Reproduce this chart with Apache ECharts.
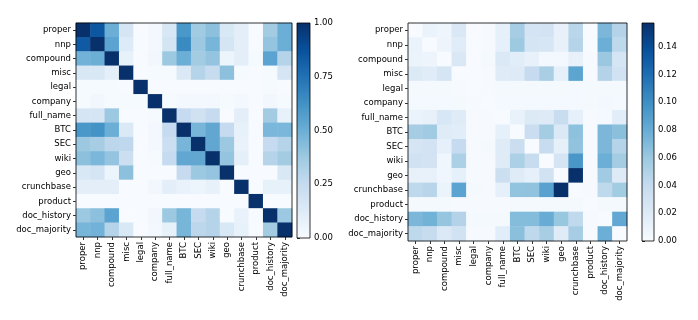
<!DOCTYPE html>
<html>
<head>
<meta charset="utf-8">
<script src="https://cdn.jsdelivr.net/npm/echarts@6/dist/echarts.min.js"></script>
<style>
  html, body { margin: 0; padding: 0; background: #fff; }
  #chart { width: 698px; height: 320px; }
</style>
</head>
<body>
<div id="chart"></div>
<script>
// labels shared by both matrices
const labels = ['proper', 'nnp', 'compound', 'misc', 'legal', 'company', 'full_name', 'BTC', 'SEC', 'wiki', 'geo', 'crunchbase', 'product', 'doc_history', 'doc_majority'];

// left matrix (0..1)
const leftMatrix = [
  [1.00, 0.85, 0.50, 0.17, 0.00, 0.02, 0.16, 0.60, 0.37, 0.42, 0.15, 0.10, 0.00, 0.36, 0.50],
  [0.84, 1.00, 0.55, 0.13, 0.00, 0.02, 0.18, 0.65, 0.38, 0.47, 0.17, 0.10, 0.00, 0.40, 0.50],
  [0.48, 0.50, 1.00, 0.08, 0.00, 0.03, 0.38, 0.50, 0.36, 0.40, 0.05, 0.10, 0.01, 0.55, 0.30],
  [0.15, 0.15, 0.09, 1.00, 0.00, 0.01, 0.01, 0.14, 0.30, 0.24, 0.42, 0.01, 0.00, 0.01, 0.17],
  [0.01, 0.01, 0.01, 0.00, 1.00, 0.00, 0.00, 0.00, 0.00, 0.00, 0.00, 0.00, 0.00, 0.01, 0.00],
  [0.01, 0.03, 0.01, 0.01, 0.01, 1.00, 0.01, 0.02, 0.02, 0.02, 0.01, 0.02, 0.00, 0.03, 0.01],
  [0.17, 0.17, 0.38, 0.00, 0.00, 0.01, 1.00, 0.25, 0.20, 0.25, 0.00, 0.10, 0.00, 0.36, 0.08],
  [0.60, 0.62, 0.50, 0.14, 0.00, 0.02, 0.25, 1.00, 0.47, 0.53, 0.25, 0.08, 0.00, 0.46, 0.46],
  [0.38, 0.35, 0.28, 0.27, 0.00, 0.02, 0.22, 0.47, 1.00, 0.53, 0.38, 0.07, 0.00, 0.25, 0.30],
  [0.42, 0.46, 0.40, 0.22, 0.00, 0.01, 0.25, 0.53, 0.53, 1.00, 0.40, 0.09, 0.00, 0.30, 0.36],
  [0.15, 0.17, 0.05, 0.42, 0.00, 0.00, 0.00, 0.25, 0.38, 0.40, 1.00, 0.00, 0.00, 0.00, 0.15],
  [0.10, 0.10, 0.10, 0.00, 0.00, 0.03, 0.10, 0.07, 0.05, 0.08, 0.00, 1.00, 0.00, 0.08, 0.08],
  [0.00, 0.00, 0.00, 0.00, 0.00, 0.00, 0.00, 0.00, 0.00, 0.00, 0.00, 0.00, 1.00, 0.00, 0.00],
  [0.38, 0.42, 0.55, 0.00, 0.00, 0.03, 0.38, 0.47, 0.25, 0.30, 0.00, 0.07, 0.00, 1.00, 0.38],
  [0.47, 0.48, 0.30, 0.15, 0.00, 0.02, 0.08, 0.47, 0.28, 0.30, 0.15, 0.08, 0.00, 0.36, 1.00]
];

// right matrix (0..~0.157)
const rightMatrix = [
  [0.000, 0.010, 0.007, 0.023, 0.000, 0.001, 0.013, 0.055, 0.028, 0.029, 0.012, 0.045, 0.000, 0.072, 0.048],
  [0.010, 0.000, 0.008, 0.018, 0.000, 0.001, 0.013, 0.059, 0.027, 0.026, 0.012, 0.047, 0.000, 0.078, 0.043],
  [0.009, 0.008, 0.000, 0.023, 0.000, 0.002, 0.022, 0.017, 0.012, 0.004, 0.004, 0.012, 0.001, 0.060, 0.027],
  [0.021, 0.018, 0.027, 0.000, 0.000, 0.001, 0.019, 0.020, 0.039, 0.053, 0.013, 0.085, 0.001, 0.048, 0.030],
  [0.002, 0.002, 0.002, 0.001, 0.000, 0.001, 0.002, 0.002, 0.002, 0.002, 0.002, 0.003, 0.002, 0.002, 0.002],
  [0.003, 0.003, 0.003, 0.002, 0.001, 0.000, 0.003, 0.003, 0.003, 0.003, 0.003, 0.003, 0.002, 0.004, 0.003],
  [0.010, 0.012, 0.025, 0.019, 0.001, 0.001, 0.000, 0.011, 0.021, 0.020, 0.037, 0.013, 0.001, 0.003, 0.017],
  [0.055, 0.058, 0.019, 0.017, 0.001, 0.001, 0.013, 0.000, 0.035, 0.056, 0.022, 0.065, 0.001, 0.072, 0.066],
  [0.027, 0.029, 0.013, 0.039, 0.001, 0.002, 0.019, 0.036, 0.000, 0.038, 0.014, 0.064, 0.001, 0.072, 0.047],
  [0.030, 0.029, 0.006, 0.052, 0.001, 0.001, 0.019, 0.052, 0.038, 0.000, 0.027, 0.095, 0.001, 0.078, 0.056],
  [0.012, 0.012, 0.006, 0.013, 0.001, 0.001, 0.034, 0.019, 0.013, 0.030, 0.000, 0.157, 0.001, 0.058, 0.020],
  [0.043, 0.046, 0.009, 0.086, 0.002, 0.001, 0.013, 0.063, 0.064, 0.087, 0.157, 0.000, 0.001, 0.043, 0.057],
  [0.002, 0.002, 0.002, 0.001, 0.001, 0.001, 0.001, 0.002, 0.002, 0.002, 0.002, 0.002, 0.000, 0.002, 0.002],
  [0.072, 0.076, 0.062, 0.048, 0.002, 0.002, 0.002, 0.069, 0.069, 0.080, 0.061, 0.042, 0.001, 0.000, 0.083],
  [0.043, 0.038, 0.022, 0.030, 0.001, 0.001, 0.017, 0.066, 0.043, 0.054, 0.019, 0.055, 0.001, 0.078, 0.000]
];

// colorbar ticks
const leftTicks = [0, 0.25, 0.5, 0.75, 1];
const rightTicks = [0, 0.02, 0.04, 0.06, 0.08, 0.10, 0.12, 0.14];
const leftMax = 1;
const rightMax = 0.157;

// matplotlib "Blues"
const blues = ['#f7fbff', '#deebf7', '#c6dbef', '#9ecae1', '#6baed6', '#4292c6', '#2171b5', '#08519c', '#08306b'];

const font = 'DejaVu Sans';
const textStyle = { color: '#000', fontFamily: font, fontSize: 8.5 };

function toCells(matrix) {
  const out = [];
  matrix.forEach((row, y) => row.forEach((v, x) => out.push([x, y, v])));
  return out;
}

function heatGrid(idx) {
  return [
    {
      type: 'category', gridIndex: idx, data: labels, position: 'bottom',
      axisLine: { show: false },
      axisTick: { show: true, alignWithLabel: true, length: 3, lineStyle: { color: '#000', width: 0.8 } },
      axisLabel: Object.assign({ rotate: 90, margin: 5, interval: 0 }, textStyle),
      splitLine: { show: false }
    },
    {
      type: 'category', gridIndex: idx, data: labels, inverse: true,
      axisLine: { show: false },
      axisTick: { show: true, alignWithLabel: true, length: 3, lineStyle: { color: '#000', width: 0.8 } },
      axisLabel: Object.assign({ margin: 5, interval: 0 }, textStyle),
      splitLine: { show: false }
    }
  ];
}

function barAxes(idx, max, ticks) {
  return [
    { type: 'value', gridIndex: idx, min: 0, max: 1, show: false },
    {
      type: 'value', gridIndex: idx, min: 0, max: max, position: 'right',
      axisLine: { show: false },
      splitLine: { show: false },
      axisTick: { show: true, length: 3, customValues: ticks, lineStyle: { color: '#000', width: 0.8 } },
      axisLabel: Object.assign({ margin: 4, customValues: ticks, formatter: v => v.toFixed(2) }, textStyle)
    }
  ];
}

function colorbarSeries(idx, max) {
  return {
    type: 'custom', xAxisIndex: idx, yAxisIndex: idx, silent: true,
    data: [[0, 0]],
    renderItem: (params, api) => {
      const p0 = api.coord([0, 0]);
      const p1 = api.coord([1, max]);
      return {
        type: 'rect',
        shape: { x: p0[0], y: p1[1], width: p1[0] - p0[0], height: p0[1] - p1[1] },
        style: {
          fill: new echarts.graphic.LinearGradient(0, 1, 0, 0,
            blues.map((c, i) => ({ offset: i / (blues.length - 1), color: c })))
        }
      };
    }
  };
}

const frame = { show: true, borderColor: '#000', borderWidth: 0.8, backgroundColor: 'transparent', z: 5 };

const h1 = heatGrid(0), h2 = heatGrid(1);
const b1 = barAxes(2, leftMax, leftTicks), b2 = barAxes(3, rightMax, rightTicks);

const option = {
  animation: false,
  backgroundColor: '#fff',
  grid: [
    Object.assign({ left: 76, top: 23, width: 216, height: 214 }, frame),
    Object.assign({ left: 408, top: 23, width: 219, height: 218 }, frame),
    Object.assign({ left: 297, top: 23, width: 13, height: 215 }, frame),
    Object.assign({ left: 642, top: 23, width: 12, height: 218 }, frame)
  ],
  xAxis: [h1[0], h2[0], b1[0], b2[0]],
  yAxis: [h1[1], h2[1], b1[1], b2[1]],
  visualMap: [
    { show: false, seriesIndex: 0, min: 0, max: leftMax, inRange: { color: blues } },
    { show: false, seriesIndex: 1, min: 0, max: rightMax, inRange: { color: blues } }
  ],
  series: [
    { type: 'heatmap', xAxisIndex: 0, yAxisIndex: 0, data: toCells(leftMatrix), silent: true },
    { type: 'heatmap', xAxisIndex: 1, yAxisIndex: 1, data: toCells(rightMatrix), silent: true },
    colorbarSeries(2, leftMax),
    colorbarSeries(3, rightMax)
  ]
};

const chart = echarts.init(document.getElementById('chart'), null, { renderer: 'canvas' });
chart.setOption(option);
</script>
</body>
</html>
